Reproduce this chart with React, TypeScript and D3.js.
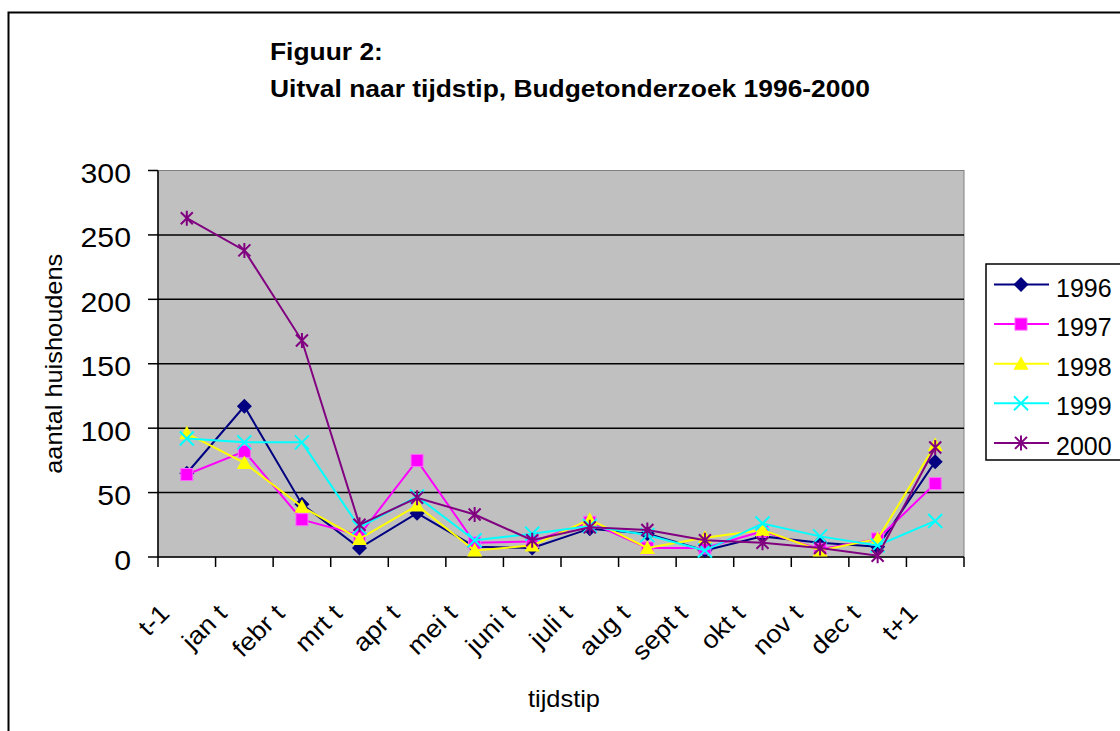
import React from "react";
import * as d3 from "d3";

const categories = ["t-1", "jan t", "febr t", "mrt t", "apr t", "mei t", "juni t", "juli t", "aug t", "sept t", "okt t", "nov t", "dec t", "t+1"];
const v1996 = [65, 117, 41, 7, 34, 8, 7, 22, 18, 5, 16, 11, 8, 74];
const v1997 = [64, 82, 29, 17, 75, 11, 12, 27, 7, 7, 20, 6, 14, 57];
const v1998 = [96, 73, 39, 14, 40, 5, 9, 29, 7, 15, 21, 5, 14, 87];
const v1999 = [92, 89, 89, 23, 47, 13, 18, 24, 17, 5, 26, 16, 9, 28];
const v2000 = [263, 238, 168, 25, 46, 33, 13, 23, 21, 13, 11, 7, 1, 85];
const yTicks = [0, 50, 100, 150, 200, 250, 300];

const series = [
  { name: "1996", values: v1996, color: "#000080", marker: "diamond" },
  { name: "1997", values: v1997, color: "#FF00FF", marker: "square" },
  { name: "1998", values: v1998, color: "#FFFF00", marker: "triangle" },
  { name: "1999", values: v1999, color: "#00FFFF", marker: "x" },
  { name: "2000", values: v2000, color: "#800080", marker: "star" },
];

const W = 1120;
const H = 731;
const PLOT = { left: 158, top: 170.5, right: 964, bottom: 557 };
const FONT = "Arial, 'Liberation Sans', sans-serif";
const STRETCH = 1.08;

const Marker = ({ type, x, y, color }: { type: string; x: number; y: number; color: string }) => {
  const s = 6;
  if (type === "diamond")
    return <path d={`M${x},${y - s - 1.5}L${x + s + 1.5},${y}L${x},${y + s + 1.5}L${x - s - 1.5},${y}Z`} fill={color} />;
  if (type === "square")
    return <rect x={x - 6} y={y - 6} width={12} height={12} fill={color} stroke="#ff66ff" strokeWidth={1} />;
  if (type === "triangle")
    return <path d={`M${x},${y - s - 1.5}L${x + s + 1.5},${y + s}L${x - s - 1.5},${y + s}Z`} fill={color} />;
  if (type === "x")
    return (
      <path d={`M${x - s - 1},${y - s - 1}L${x + s + 1},${y + s + 1}M${x - s - 1},${y + s + 1}L${x + s + 1},${y - s - 1}`} stroke={color} strokeWidth={2} />
    );
  return (
    <path
      d={`M${x - s},${y - s}L${x + s},${y + s}M${x - s},${y + s}L${x + s},${y - s}M${x},${y - s - 1.5}L${x},${y + s + 1.5}`}
      stroke={color}
      strokeWidth={2}
    />
  );
};

const App = () => {
  const xScale = d3.scaleBand().domain(categories).range([PLOT.left, PLOT.right]);
  const yScale = d3.scaleLinear().domain([0, 300]).range([PLOT.bottom, PLOT.top]);
  const cx = (c: string) => (xScale(c) || 0) + xScale.bandwidth() / 2;

  const line = d3
    .line<number>()
    .x((_, i) => cx(categories[i]))
    .y((d) => yScale(d));

  const boundaries = categories.map((c) => xScale(c) || 0).concat([PLOT.right]);

  return (
    <svg width={W} height={H} style={{ position: "absolute", left: 0, top: 0 }} fontFamily={FONT}>
      <rect x={0} y={0} width={W} height={H} fill="#fff" />
      <rect x={8.5} y={12.5} width={W + 20} height={H + 20} fill="none" stroke="#000" strokeWidth={2} />

      <text transform={`translate(270,60) scale(1.1,1)`} fontSize={24} fontWeight="bold">Figuur 2:</text>
      <text transform={`translate(270,96.5) scale(1.1,1)`} fontSize={24} fontWeight="bold">
        Uitval naar tijdstip, Budgetonderzoek 1996-2000
      </text>

      <rect x={PLOT.left} y={PLOT.top} width={PLOT.right - PLOT.left} height={PLOT.bottom - PLOT.top} fill="#C0C0C0" stroke="#808080" strokeWidth={1} />

      {yTicks.filter((t) => t > 0 && t < 300).map((t) => (
        <line key={t} x1={PLOT.left} x2={PLOT.right} y1={yScale(t)} y2={yScale(t)} stroke="#000" strokeWidth={1.5} />
      ))}

      <line x1={PLOT.left} x2={PLOT.left} y1={PLOT.top} y2={PLOT.bottom} stroke="#000" strokeWidth={1.5} />
      <line x1={PLOT.left} x2={PLOT.right} y1={PLOT.bottom} y2={PLOT.bottom} stroke="#000" strokeWidth={1.5} />
      {yTicks.map((t) => (
        <g key={t}>
          <line x1={PLOT.left - 10} x2={PLOT.left} y1={yScale(t)} y2={yScale(t)} stroke="#000" strokeWidth={1.5} />
          <text transform={`translate(131,${yScale(t) + 12.5}) scale(${STRETCH},1)`} fontSize={28} textAnchor="end">{t}</text>
        </g>
      ))}
      {boundaries.map((b, i) => (
        <line key={i} x1={b} x2={b} y1={PLOT.bottom} y2={PLOT.bottom + 10} stroke="#000" strokeWidth={1.5} />
      ))}

      {categories.map((c) => (
        <text
          key={c}
          transform={`translate(${cx(c) - 16},615) rotate(-45) scale(${STRETCH},1)`}
          fontSize={25}
          textAnchor="end"
        >
          {c}
        </text>
      ))}

      <text transform={`translate(564,707) scale(${STRETCH},1)`} fontSize={23.5} textAnchor="middle">tijdstip</text>
      <text transform={`translate(62,${yScale(150)}) rotate(-90) scale(${STRETCH},1)`} fontSize={23.5} textAnchor="middle">
        aantal huishoudens
      </text>

      {series.map((s) => (
        <g key={s.name}>
          <path d={line(s.values) || ""} fill="none" stroke={s.color} strokeWidth={2} />
          {s.values.map((v, i) => (
            <Marker key={i} type={s.marker} x={cx(categories[i])} y={yScale(v)} color={s.color} />
          ))}
        </g>
      ))}

      <rect x={986} y={264} width={150} height={196} fill="#fff" stroke="#000" strokeWidth={1.5} />
      {series.map((s, i) => {
        const y = 284.5 + i * 39.6;
        return (
          <g key={s.name}>
            <line x1={994} x2={1049} y1={y} y2={y} stroke={s.color} strokeWidth={2} />
            <Marker type={s.marker} x={1021} y={y} color={s.color} />
            <text x={1056} y={y + 12} fontSize={25}>{s.name}</text>
          </g>
        );
      })}
    </svg>
  );
};

export default App;
